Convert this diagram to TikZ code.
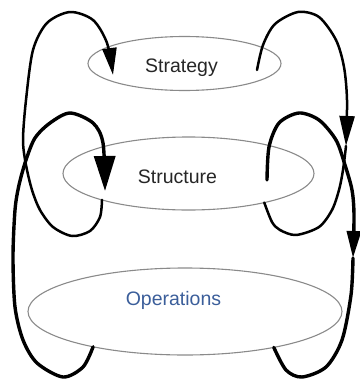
\documentclass[tikz,border=0pt]{standalone}
\usepackage{fontspec}
\setmainfont{Liberation Sans}
\usetikzlibrary{arrows.meta,shapes.geometric}
\definecolor{ringgray}{HTML}{8A8A8A}
\definecolor{opblue}{HTML}{3B5E9A}
\definecolor{txtgray}{HTML}{262626}
\begin{document}
\begin{tikzpicture}[x=1pt,y=-1pt,
  ring/.style={ellipse, draw=ringgray, line width=1.1pt, inner sep=0pt, outer sep=0pt},
  lbl/.style={font=\fontsize{19.5}{22}\selectfont, inner sep=0pt, anchor=base},
  loopthin/.style={line width=2.5pt, line cap=round, line join=round},
  loopthick/.style={line width=3.4pt, line cap=round, line join=round},
  ]
\useasboundingbox (0,0) rectangle (359,380);
% ellipses
\node[ring, minimum width=193pt, minimum height=54pt] (strat) at (184.5,63.5) {};
\node[ring, minimum width=251pt, minimum height=73pt] (struct) at (188.5,173.5) {};
\node[ring, minimum width=314pt, minimum height=87pt] (ops) at (185,311.5) {};
% labels
\node[lbl, text=txtgray] (tstrat) at (181.5,72.5) {Strategy};
\node[lbl, text=txtgray] (tstruct) at (177.5,183) {Structure};
\node[lbl, text=opblue] (tops) at (173.5,305) {Operations};
% end points
\coordinate (l1s) at (struct.197.2);
\coordinate (l1e) at (113,75);
\coordinate (l2s) at (ops.201.1);
\coordinate (l2e) at (105,191);
\coordinate (r1s) at (257,70);
\coordinate (r1m) at (346,146);
\coordinate (r1e) at (struct.339.4);
\coordinate (r2s) at (267,180);
\coordinate (r2m) at (353,258);
\coordinate (r2e) at (ops.338.1);
% left loops
\draw[loopthin, -{Triangle[length=27pt,width=14pt]}] plot[smooth] coordinates
  {(l1s) (100,217) (90,231) (72,236) (53,227) (40,210) (32,190) (26,165) (23,140) (26,100) (33,50) (47,23) (70,12) (93,20) (107,43) (l1e)};
\draw[loopthick, -{Triangle[length=35pt,width=21pt]}] plot[smooth] coordinates
  {(l2s) (83,367) (63,377) (37,363) (23,340) (15,307) (13,257) (15,210) (19,185) (26,160) (35,138) (50,123) (70,113) (93,123) (103,143) (l2e)};
% right loops
\draw[loopthin, -{Triangle[length=30pt,width=15pt]}] plot[smooth] coordinates
  {(r1s) (263,45) (275,24) (298,12) (319,17) (336,40) (344,67) (347,100) (r1m)};
\draw[loopthin] plot[smooth] coordinates
  {(r1m) (343,170) (339,190) (332,210) (319,227) (296,235) (280,230) (272,222) (r1e)};
\draw[loopthick, -{Triangle[length=27pt,width=14pt]}] plot[smooth] coordinates
  {(r2s) (269,147) (279,123) (299,113) (319,120) (336,140) (345,165) (352,190) (354,215) (r2m)};
\draw[loopthick] plot[smooth] coordinates
  {(r2m) (351,295) (342,340) (326,367) (302,377) (286,370) (r2e)};
\end{tikzpicture}
\end{document}
